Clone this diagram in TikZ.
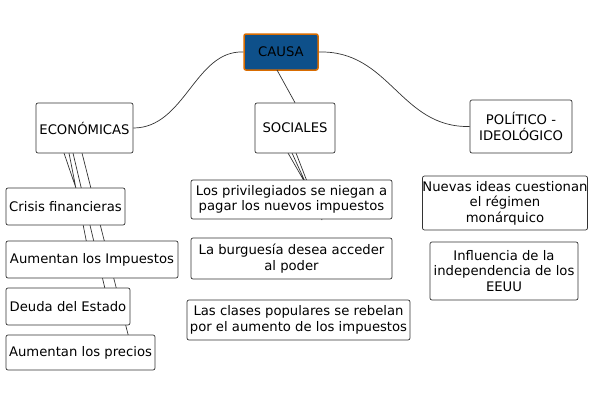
\documentclass[tikz,border=0pt]{standalone}
\usepackage{fontspec}
\setmainfont{DejaVu Sans}
\begin{document}
\begin{tikzpicture}[x=1pt,y=-1pt,
 box/.style={draw=black!80,fill=white,rounded corners=2pt,line width=0.7pt,align=center,inner sep=0pt,font=\fontsize{13.2}{15.5}\selectfont},
 con/.style={draw=black!80,line width=0.7pt}]
\useasboundingbox (0,0) rectangle (615,405);
\coordinate (e1) at (64,153); \coordinate (e2) at (69,153);
\coordinate (e3) at (73,153); \coordinate (e4) at (82,153);
\coordinate (t1) at (80,200); \coordinate (t2) at (92,270);
\coordinate (t3) at (110,310); \coordinate (t4) at (132,350);
\coordinate (f1) at (288,153); \coordinate (f2) at (292,153); \coordinate (f3) at (296,153);
\coordinate (u1) at (315,200); \coordinate (u2) at (318,210); \coordinate (u3) at (322,220);
\draw[con] (e1) -- (t1) (e2) -- (t2) (e3) -- (t3) (e4) -- (t4);
\draw[con] (f1) -- (u1) (f2) -- (u2) (f3) -- (u3);
\node[box,minimum width=119,minimum height=37] (c1) at (65.5,206.5) {Crisis financieras};
\node[box,minimum width=172,minimum height=37] (c2) at (92,259.5) {Aumentan los Impuestos};
\node[box,minimum width=124,minimum height=37] (c3) at (68,306.5) {Deuda del Estado};
\node[box,minimum width=149,minimum height=35] (c4) at (80.5,352.5) {Aumentan los precios};
\node[box,minimum width=97,minimum height=50] (eco) at (84.5,128) {ECONÓMICAS};
\node[box,minimum width=80,minimum height=50] (soc) at (295,128) {SOCIALES};
\node[box,minimum width=102,minimum height=53] (pol) at (521,126.5) {POLÍTICO -\\IDEOLÓGICO};
\node[box,minimum width=201,minimum height=39] (s1) at (291.5,199.5) {Los privilegiados se niegan a\\pagar los nuevos impuestos};
\node[box,minimum width=201,minimum height=41] (s2) at (291.5,258.5) {La burguesía desea acceder\\al poder};
\node[box,minimum width=223,minimum height=40] (s3) at (298.5,320) {Las clases populares se rebelan\\por el aumento de los impuestos};
\node[box,minimum width=162,minimum height=54] (p1) at (505,203) {Nuevas ideas cuestionan\\el régimen\\monárquico};
\node[box,minimum width=148,minimum height=58] (p2) at (504,271) {Influencia de la\\independencia de los\\EEUU};
\node[draw=orange!85!black,fill={rgb,255:red,14;green,80;blue,138},line width=1.5pt,rounded corners=2pt,minimum width=74,minimum height=36,inner sep=0pt,font=\fontsize{13.2}{15.5}\selectfont,text=black] (causa) at (281,52) {CAUSA};
\draw[con] (causa.west) .. controls (195,50) and (185,128) .. (eco.east);
\draw[con] (causa.east) .. controls (390,50) and (400,128) .. (pol.west);
\draw[con] (277,70) -- (soc.north);
\end{tikzpicture}
\end{document}
